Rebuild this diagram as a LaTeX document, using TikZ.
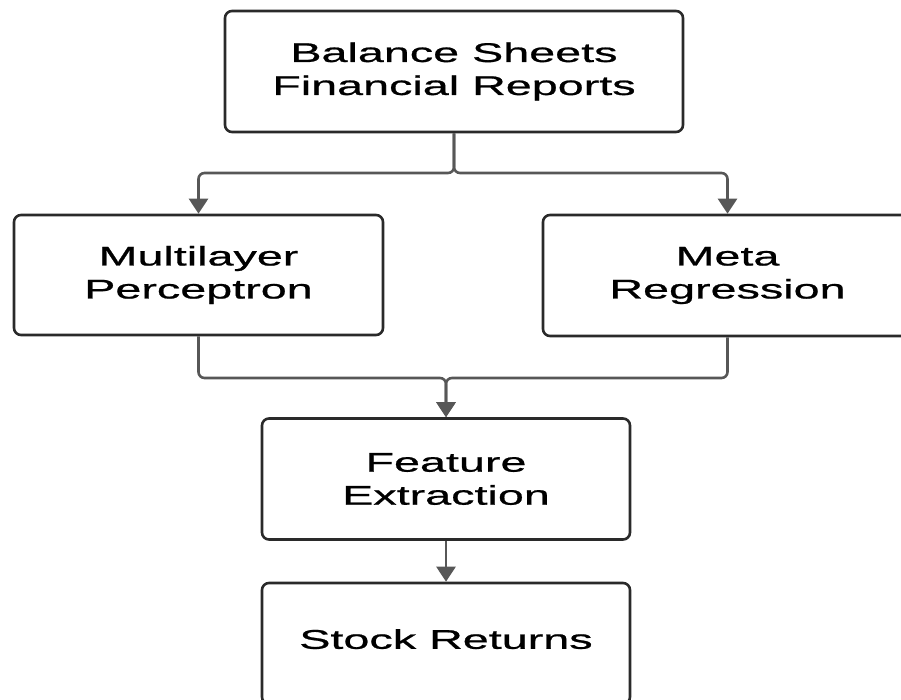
\documentclass[tikz,border=0pt]{standalone}
\usepackage{fontspec}
\setmainfont[FakeStretch=1.73, FakeBold=0.8]{Liberation Sans}
\usetikzlibrary{arrows.meta}
\definecolor{boxline}{HTML}{2A2A2A}
\definecolor{linkline}{HTML}{575757}
\tikzset{
  stage/.style={draw=boxline, line width=2.6pt, rounded corners=7pt, fill=white,
    inner sep=0pt, align=center, text=black,
    font=\fontsize{27}{33}\selectfont},
  link/.style={draw=linkline, line width=2.6pt, rounded corners=6pt,
    -{Triangle[width=19pt,length=15pt]}},
}
\begin{document}
\begin{tikzpicture}[x=1pt, y=-1pt]
  \useasboundingbox (0,0) rectangle (901,700);
  \clip (0,0) rectangle (901,700);

  % process stages
  \node[stage, minimum width=458pt, minimum height=121pt] (top) at (454,71.5)
    {Balance Sheets\\Financial Reports};
  \node[stage, minimum width=369pt, minimum height=120pt] (mlp) at (198.5,275)
    {Multilayer\\Perceptron};
  \node[stage, minimum width=369pt, minimum height=121pt] (meta) at (727.5,275.5)
    {Meta\\Regression};
  \node[stage, minimum width=368pt, minimum height=121pt] (feat) at (446,479)
    {Feature\\Extraction};
  \node[stage, minimum width=368pt, minimum height=121pt, text depth=9pt] (stock) at (446,643.5)
    {Stock Returns};

  % split and merge points of the elbow connectors
  \coordinate (split) at (top.south |- 0,173);
  \coordinate (merge) at (feat.north |- 0,378);

  \draw[link] (top.south) -- (split) -- (split -| mlp.north) -- (mlp.north);
  \draw[link] (top.south) -- (split) -- (split -| meta.north) -- (meta.north);
  \draw[link] (mlp.south) -- (mlp.south |- merge) -- (merge) -- (feat.north);
  \draw[link] (meta.south) -- (meta.south |- merge) -- (merge) -- (feat.north);
  \draw[link] (feat.south) -- (stock.north);
\end{tikzpicture}
\end{document}
